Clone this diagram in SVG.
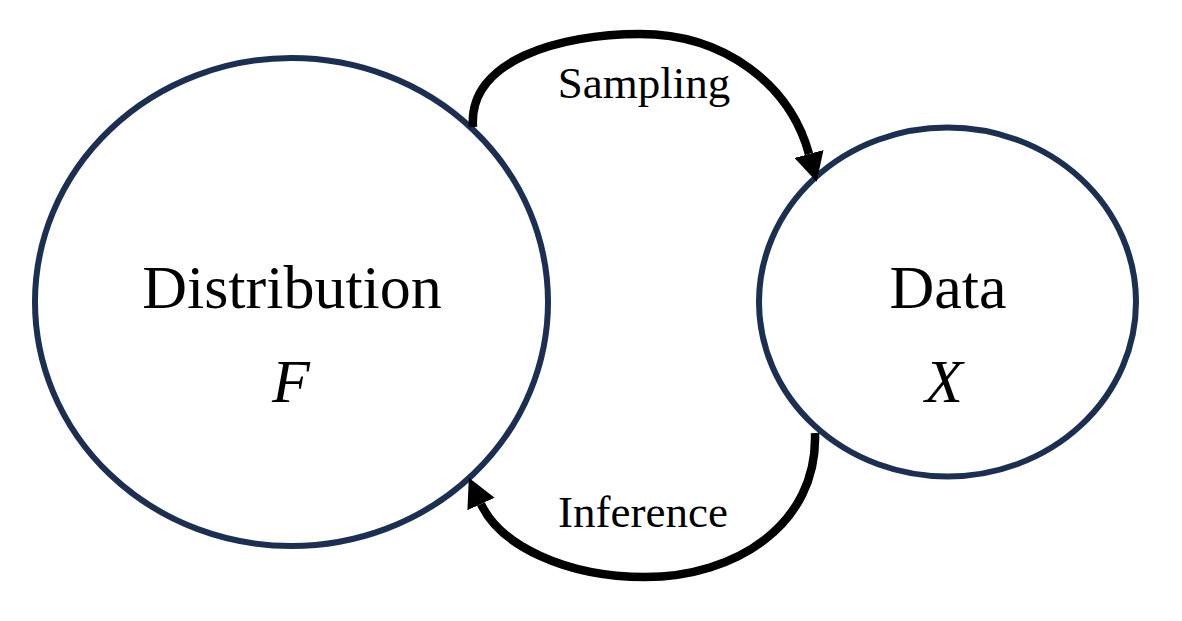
<svg xmlns="http://www.w3.org/2000/svg" width="1182" height="621" viewBox="0 0 1182 621">
<style>
.node{fill:#ffffff;stroke:#1b2f52;stroke-width:6}
.big{font-family:"Liberation Serif","Times New Roman",serif;font-size:62px;fill:#000;text-anchor:middle}
.var{font-family:"Liberation Serif","Times New Roman",serif;font-size:62px;font-style:italic;fill:#000;text-anchor:middle}
.lbl{font-family:"Liberation Serif","Times New Roman",serif;font-size:45px;fill:#000;text-anchor:middle}
.conn{fill:none;stroke:#000;stroke-width:8.5}
</style>
<defs>
<marker id="arrow" markerUnits="userSpaceOnUse" markerWidth="30" markerHeight="30" refX="0" refY="13" orient="auto" viewBox="0 0 26 26">
<path d="M0,0 L25,13 L0,26 z" fill="#000"/>
</marker>
</defs>
<rect width="1182" height="621" fill="#ffffff"/>
<g id="node-distribution">
<ellipse class="node" cx="291.5" cy="302" rx="256.5" ry="244"/>
<text class="big" x="292" y="308">Distribution</text>
<text class="var" x="291" y="402">F</text>
</g>
<g id="node-data">
<ellipse class="node" cx="947.5" cy="302" rx="188.5" ry="174.5"/>
<text class="big" x="948" y="308">Data</text>
<text class="var" x="944" y="402">X</text>
</g>
<g id="connectors">
<path class="conn" d="M473,127 C468,60 560,34 640,34 C725,34 790,85 809,154" marker-end="url(#arrow)"/>
<path class="conn" d="M815,433 C818,525 735,577 645,577 C565,577 500,545 481,504" marker-end="url(#arrow)"/>
<text class="lbl" x="644" y="98">Sampling</text>
<text class="lbl" x="643" y="527">Inference</text>
</g>
</svg>
